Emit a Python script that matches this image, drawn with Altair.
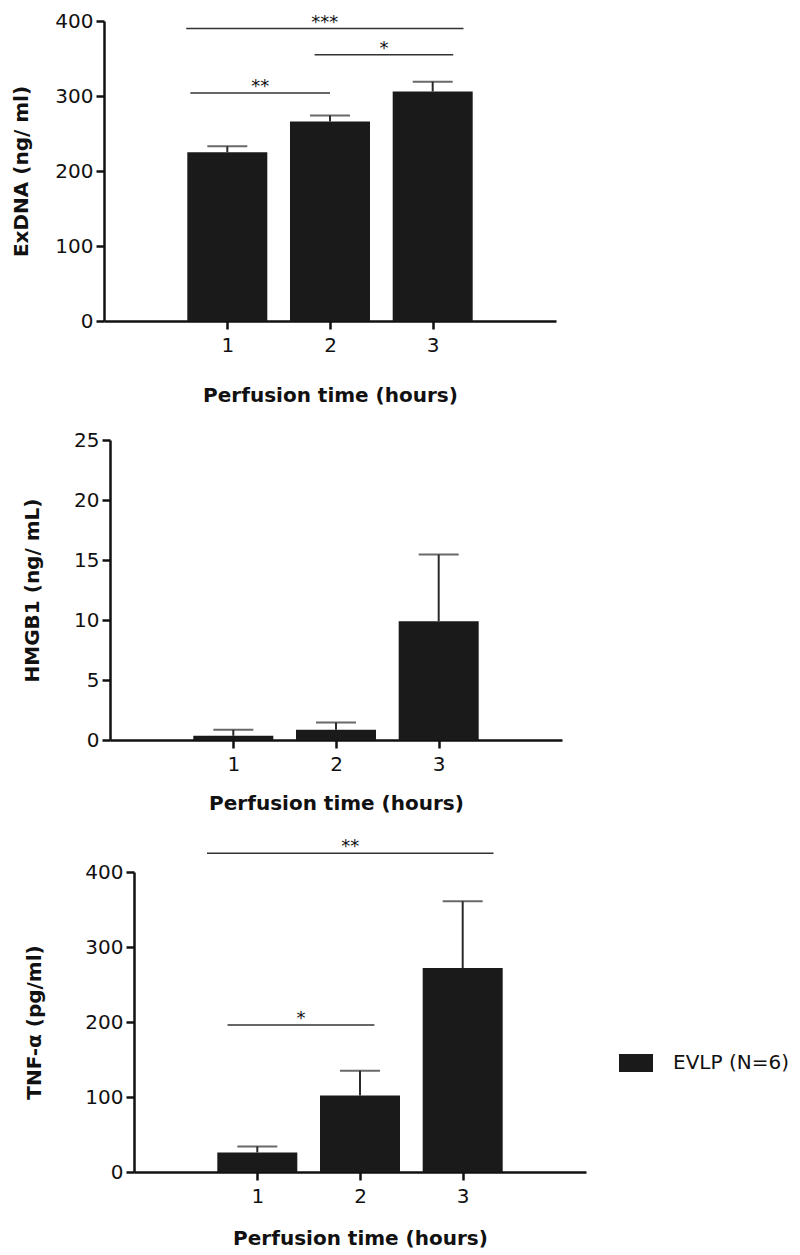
import altair as alt
import pandas as pd

# ---------------- data ----------------
hours = [1, 2, 3]
x_tick_values = [1, 2, 3]
x_title = "Perfusion time (hours)"
series_name = "EVLP (N=6)"

exdna_mean = [225, 266, 306]
exdna_upper = [233, 274, 319]
exdna_ticks = [0, 100, 200, 300, 400]

hmgb1_mean = [0.35, 0.85, 9.9]
hmgb1_upper = [0.85, 1.45, 15.45]
hmgb1_ticks = [0, 5, 10, 15, 20, 25]

tnf_mean = [26, 102, 272]
tnf_upper = [34, 135, 361]
tnf_ticks = [0, 100, 200, 300, 400]

exdna_sig_start = [0.60, 1.85, 0.64]
exdna_sig_end = [3.30, 3.20, 2.00]
exdna_sig_y = [390, 355, 304]
exdna_sig_label = ["***", "*", "**"]

tnf_sig_start = [0.51, 0.71]
tnf_sig_end = [3.30, 2.14]
tnf_sig_y = [425, 196]
tnf_sig_label = ["**", "*"]

# ---------------- style ----------------
FONT = "DejaVu Sans"
BAR = "#1a1a1a"
INK = "#111111"
X_DOMAIN = [-0.152, 4.152]
PW = 452
PH = 300


def panel(mean, upper, ytitle, ydomain, yticks, shift, ytp, xtp,
          sig=None, legend=False):
    df = pd.DataFrame({"hours": hours, "mean": mean, "upper": upper,
                       "series": [series_name] * len(hours)})
    xscale = alt.Scale(domain=X_DOMAIN, range=[shift, shift + PW], nice=False, zero=False)
    yscale = alt.Scale(domain=ydomain, nice=False)
    xaxis = alt.Axis(values=x_tick_values, title=x_title, titlePadding=xtp, format="d",
                     labelPadding=6, labelFlush=False)
    yaxis = alt.Axis(values=yticks, title=ytitle, titlePadding=ytp, offset=-shift,
                     labelPadding=3, labelFlush=False)
    base = alt.Chart(df)
    if legend:
        color = alt.Color("series:N", scale=alt.Scale(range=[BAR]),
                          legend=alt.Legend(title=None, orient="none", legendX=515, legendY=1025,
                                            symbolType="M-1,-0.53L1,-0.53L1,0.53L-1,0.53Z",
                                            symbolSize=1156, symbolStrokeWidth=0,
                                            labelFont=FONT, labelFontSize=20, labelColor=INK,
                                            labelOffset=20, padding=0))
    else:
        color = alt.value(BAR)
    bars = base.mark_bar(orient="vertical", size=80).encode(
        x=alt.X("hours:Q", scale=xscale, axis=xaxis),
        y=alt.Y("mean:Q", scale=yscale, axis=yaxis),
        color=color,
    )
    stem = base.mark_rule(color="#2a2a2a", strokeWidth=2).encode(
        x="hours:Q", y="mean:Q", y2="upper:Q")
    cap = base.mark_tick(color="#2a2a2a", thickness=2, size=40, orient="horizontal").encode(
        x="hours:Q", y="upper:Q")
    layers = [bars, stem, cap]
    if sig is not None:
        s1, s2, sy, sl = sig
        sdf = pd.DataFrame({"x1": s1, "x2": s2, "y": sy, "label": sl})
        sbase = alt.Chart(sdf)
        rules = sbase.mark_rule(color="#333333", strokeWidth=1.6).encode(
            x="x1:Q", x2="x2:Q", y="y:Q")
        texts = sbase.transform_calculate(xm="(datum.x1 + datum.x2) / 2").mark_text(
            font=FONT, fontSize=18, baseline="alphabetic", dy=-1, color=INK).encode(
            x="xm:Q", y="y:Q", text="label:N")
        layers += [rules, texts]
    return alt.layer(*layers).properties(width=shift + PW, height=PH)


p1 = panel(exdna_mean, exdna_upper, "ExDNA (ng/ ml)", [0, 400], exdna_ticks,
           shift=0, ytp=23, xtp=30,
           sig=(exdna_sig_start, exdna_sig_end, exdna_sig_y, exdna_sig_label))
p2 = panel(hmgb1_mean, hmgb1_upper, "HMGB1 (ng/ mL)", [0, 25], hmgb1_ticks,
           shift=6, ytp=31, xtp=19)
p3 = panel(tnf_mean, tnf_upper, "TNF-\u03b1 (pg/ml)", [0, 400], tnf_ticks,
           shift=30, ytp=40, xtp=22,
           sig=(tnf_sig_start, tnf_sig_end, tnf_sig_y, tnf_sig_label), legend=True)

chart = alt.vconcat(p1, p2, p3, spacing=25).properties(
    padding={"top": 3, "left": 3, "right": 0, "bottom": 0}
).configure_view(
    strokeWidth=0
).configure_axis(
    grid=False,
    domainColor=INK, domainWidth=2.5,
    tickColor=INK, tickWidth=2.5, tickSize=8,
    labelFont=FONT, labelFontSize=20, labelColor=INK,
    titleFont=FONT, titleFontSize=20, titleFontWeight="bold", titleColor=INK,
)

chart.save("out.html", embed_options={"renderer": "svg", "actions": False})
